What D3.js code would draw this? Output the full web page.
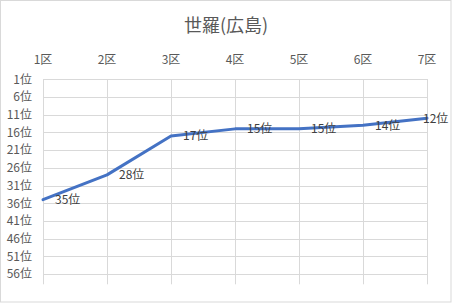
<!DOCTYPE html>
<html>
<head>
<meta charset="utf-8">
<script src="https://cdn.jsdelivr.net/npm/d3@7"></script>
<style>
  body { margin: 0; background: #fff; }
  text { font-family: "Noto Sans CJK JP", "Noto Sans", sans-serif; }
</style>
</head>
<body>
<div id="chart"></div>
<script>
var title = '世羅(広島)';
var sections = ['1区', '2区', '3区', '4区', '5区', '6区', '7区'];
var ranks = [35, 28, 17, 15, 15, 14, 12];
var rankTicks = [1, 6, 11, 16, 21, 26, 31, 36, 41, 46, 51, 56];

var width = 452, height = 304;
var plotLeft = 43, plotRight = 427, plotTop = 79.3, plotBottom = 284.3;

var svg = d3.select('#chart').append('svg')
    .attr('width', width)
    .attr('height', height);

svg.append('rect')
    .attr('x', 0.5).attr('y', 0.5)
    .attr('width', width - 1.5).attr('height', height - 2.5)
    .attr('fill', '#fff')
    .attr('stroke', '#d9d9d9');

var x = d3.scalePoint().domain(sections).range([plotLeft, plotRight]);
var y = d3.scaleLinear().domain([1, 58.9]).range([plotTop, plotBottom]);

// gridlines
svg.append('g').selectAll('line')
    .data(rankTicks)
    .enter().append('line')
    .attr('x1', plotLeft).attr('x2', plotRight + 1)
    .attr('y1', function(d) { return Math.round(y(d)) + 0.5; })
    .attr('y2', function(d) { return Math.round(y(d)) + 0.5; })
    .attr('stroke', '#d9d9d9');

svg.append('g').selectAll('line')
    .data(sections)
    .enter().append('line')
    .attr('x1', function(d) { return Math.round(x(d)) + 0.5; })
    .attr('x2', function(d) { return Math.round(x(d)) + 0.5; })
    .attr('y1', plotTop).attr('y2', plotBottom)
    .attr('stroke', '#d9d9d9');

// title
svg.append('text')
    .attr('x', 226).attr('y', 32)
    .attr('text-anchor', 'middle')
    .attr('font-size', 18)
    .attr('fill', '#595959')
    .text(title);

// axis labels
svg.append('g').selectAll('text')
    .data(sections)
    .enter().append('text')
    .attr('x', function(d) { return x(d); })
    .attr('y', 64)
    .attr('text-anchor', 'middle')
    .attr('font-size', 12)
    .attr('fill', '#595959')
    .text(function(d) { return d; });

svg.append('g').selectAll('text')
    .data(rankTicks)
    .enter().append('text')
    .attr('x', 32)
    .attr('y', function(d) { return y(d); })
    .attr('dy', '0.36em')
    .attr('text-anchor', 'end')
    .attr('font-size', 12)
    .attr('fill', '#595959')
    .text(function(d) { return d + '位'; });

// line
var line = d3.line()
    .x(function(d, i) { return x(sections[i]); })
    .y(function(d) { return y(d); });

svg.append('path')
    .datum(ranks)
    .attr('d', line)
    .attr('fill', 'none')
    .attr('stroke', '#4472c4')
    .attr('stroke-width', 3)
    .attr('stroke-linejoin', 'round')
    .attr('stroke-linecap', 'round');

// data labels
svg.append('g').selectAll('text')
    .data(ranks)
    .enter().append('text')
    .attr('x', function(d, i) { return Math.min(x(sections[i]) + 12, 423); })
    .attr('y', function(d) { return y(d); })
    .attr('dy', '0.36em')
    .attr('font-size', 12)
    .attr('fill', '#404040')
    .text(function(d) { return d + '位'; });
</script>
</body>
</html>
